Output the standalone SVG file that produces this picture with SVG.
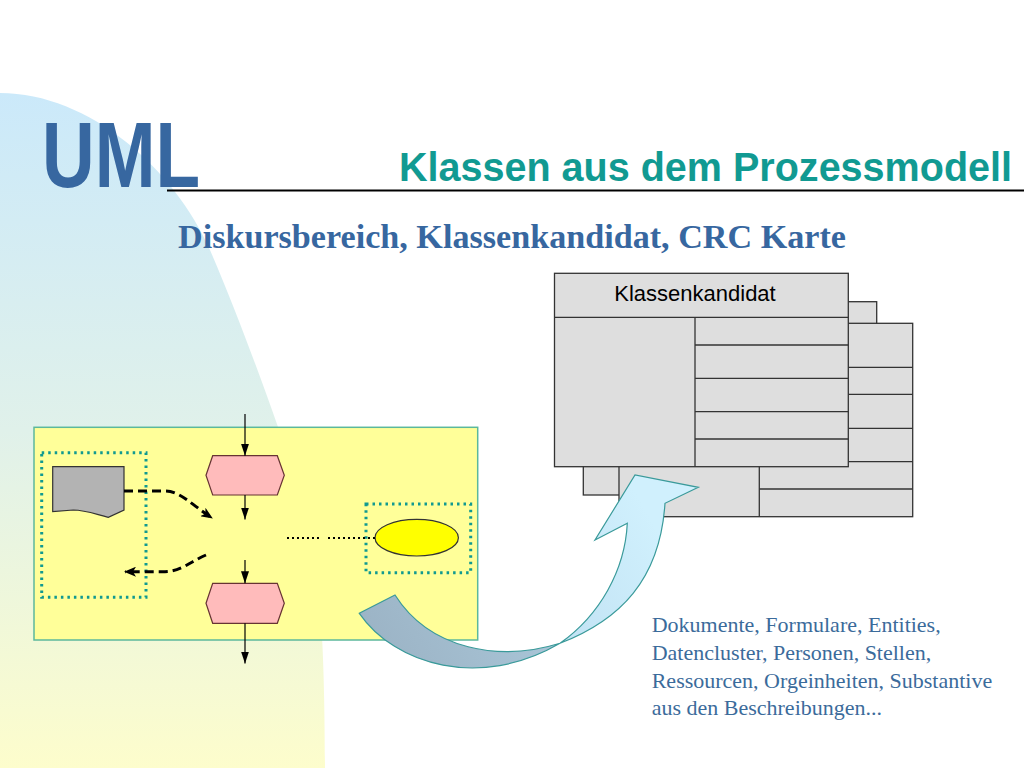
<svg xmlns="http://www.w3.org/2000/svg" width="1024" height="768" viewBox="0 0 1024 768">
  <defs>
    <linearGradient id="bgGrad" x1="0" y1="93" x2="0" y2="768" gradientUnits="userSpaceOnUse">
      <stop offset="0" stop-color="#cbe9fa"/>
      <stop offset="0.5" stop-color="#e0f1ea"/>
      <stop offset="1" stop-color="#fdfdcc"/>
    </linearGradient>
    <linearGradient id="arrowGrad" x1="380" y1="650" x2="640" y2="500" gradientUnits="userSpaceOnUse">
      <stop offset="0" stop-color="#9cb4c6"/>
      <stop offset="0.5" stop-color="#a8c4d6"/>
      <stop offset="0.56" stop-color="#c2e3f4"/>
      <stop offset="1" stop-color="#d0f0fd"/>
    </linearGradient>
    <marker id="arrV" markerUnits="userSpaceOnUse" markerWidth="12" markerHeight="8" refX="12" refY="4" orient="auto">
      <path d="M0,0 L12,4 L0,8 Z" fill="#000"/>
    </marker>
    <marker id="arrD" markerUnits="userSpaceOnUse" markerWidth="12" markerHeight="10" refX="11" refY="5" orient="auto">
      <path d="M0,0 L12,5 L0,10 L3,5 Z" fill="#000"/>
    </marker>
    <style>
      .card { fill: #dedede; stroke: #333333; stroke-width: 1.3; }
      .cline { stroke: #333333; stroke-width: 1.3; fill: none; }
      .dotbox { fill: none; stroke: #109990; stroke-width: 3; stroke-dasharray: 2.5 4; }
      .hex { fill: #ffbbbb; stroke: #663333; stroke-width: 1.2; }
      .flow { stroke: #000; stroke-width: 1.2; fill: none; marker-end: url(#arrV); }
      .dash { stroke: #000; stroke-width: 3; stroke-dasharray: 9 5; fill: none; marker-end: url(#arrD); }
      .body { font-family: "Liberation Serif", "Times New Roman", serif; font-size: 22px; fill: #3b6b9b; }
    </style>
  </defs>

  <rect x="0" y="0" width="1024" height="768" fill="#ffffff"/>
  <path d="M0,93 C90,93 175,170 210,250 C233,303 258,370 278,427 C310,490 325,560 325,768 L0,768 Z" fill="url(#bgGrad)"/>

  <g id="header">
    <text x="42" y="187" font-family="Liberation Sans, Arial, sans-serif" font-weight="bold" font-size="93" fill="#3767a0" textLength="158" lengthAdjust="spacingAndGlyphs">UML</text>
    <line x1="167" y1="190.5" x2="1024" y2="190.5" stroke="#000" stroke-width="2"/>
    <text x="399" y="180.5" font-family="Liberation Sans, Arial, sans-serif" font-weight="bold" font-size="40" fill="#119a92" textLength="613" lengthAdjust="spacingAndGlyphs">Klassen aus dem Prozessmodell</text>
    <text x="178" y="248" font-family="Liberation Serif, Times New Roman, serif" font-weight="bold" font-size="33" fill="#3767a0" textLength="668" lengthAdjust="spacingAndGlyphs">Diskursbereich, Klassenkandidat, CRC Karte</text>
  </g>

  <g id="process-model">
    <rect x="34" y="427.3" width="443.7" height="212.7" fill="#ffff99" stroke="#5cb89c" stroke-width="1.5"/>
    <g id="doc-group">
      <rect class="dotbox" x="41.7" y="452.7" width="104.3" height="144.6"/>
      <path d="M52.7,466.7 H124 V510 L108.3,517.3 C95,514 85,510 73.3,510 L52.7,511.7 Z" fill="#b3b3b3" stroke="#333333" stroke-width="1.2"/>
    </g>
    <g id="function-top">
      <polygon class="hex" points="206,475.3 212.7,455.7 277.3,455.7 284.3,475.3 277.3,495 212.7,495"/>
    </g>
    <g id="function-bottom">
      <polygon class="hex" points="206,603.3 212.7,583.3 277.3,583.3 284.3,603.3 277.3,623.3 212.7,623.3"/>
    </g>
    <g id="entity-group">
      <rect class="dotbox" x="366" y="504" width="104.7" height="68.7"/>
      <ellipse cx="416.7" cy="537.7" rx="41.7" ry="18.3" fill="#ffff00" stroke="#333333" stroke-width="1.2"/>
    </g>
    <g id="connectors">
      <path class="flow" d="M245,414 V455.7"/>
      <path class="flow" d="M245,495 V519.5"/>
      <path class="flow" d="M245,560 V583.3"/>
      <path class="flow" d="M245,623.3 V663.5"/>
      <path class="dash" d="M124,491 H165 C180,491 192,505 212,518"/>
      <path class="dash" d="M206,555 C190,562 180,571.7 165,571.7 H125"/>
      <path d="M287,538 H320 M328,538 H375" stroke="#000" stroke-width="2" stroke-dasharray="2 3" fill="none"/>
    </g>
  </g>

  <g id="crc-cards">
    <g id="card-back">
      <rect class="card" x="583.3" y="301.7" width="293.4" height="193.3"/>
    </g>
    <g id="card-middle">
      <rect class="card" x="619" y="323.3" width="293.7" height="193.4"/>
      <line class="cline" x1="759.3" y1="367.3" x2="759.3" y2="516.7"/>
      <line class="cline" x1="759.3" y1="367.3" x2="912.7" y2="367.3"/>
      <line class="cline" x1="759.3" y1="394.3" x2="912.7" y2="394.3"/>
      <line class="cline" x1="759.3" y1="428.3" x2="912.7" y2="428.3"/>
      <line class="cline" x1="759.3" y1="461.7" x2="912.7" y2="461.7"/>
      <line class="cline" x1="759.3" y1="489" x2="912.7" y2="489"/>
    </g>
    <g id="card-front">
      <rect class="card" x="554.5" y="273.3" width="293.8" height="193.4"/>
      <line class="cline" x1="554.5" y1="317.3" x2="848.3" y2="317.3"/>
      <line class="cline" x1="695" y1="317.3" x2="695" y2="466.7"/>
      <line class="cline" x1="695" y1="345" x2="848.3" y2="345"/>
      <line class="cline" x1="695" y1="378.3" x2="848.3" y2="378.3"/>
      <line class="cline" x1="695" y1="411.7" x2="848.3" y2="411.7"/>
      <line class="cline" x1="695" y1="439" x2="848.3" y2="439"/>
      <text x="695" y="301" text-anchor="middle" font-family="Liberation Sans, Arial, sans-serif" font-size="22" fill="#000">Klassenkandidat</text>
    </g>
  </g>

  <g id="transform-arrow">
    <path d="M359.3,613.3 C395,665 480,690 560,643.3 C620,620 660,580 665,503.3 L698.3,487.3 L635,475 L595,540 L627.3,523.3 C625,570 600,615 560,643.3 C500,662 430,650 395,595 Z" fill="url(#arrowGrad)" stroke="#3a9a9a" stroke-width="1.2" stroke-linejoin="miter"/>
  </g>

  <g id="description">
    <text class="body" x="651.7" y="632.3">Dokumente, Formulare, Entities,</text>
    <text class="body" x="651.7" y="660">Datencluster, Personen, Stellen,</text>
    <text class="body" x="651.7" y="687.7">Ressourcen, Orgeinheiten, Substantive</text>
    <text class="body" x="651.7" y="715">aus den Beschreibungen...</text>
  </g>
</svg>
